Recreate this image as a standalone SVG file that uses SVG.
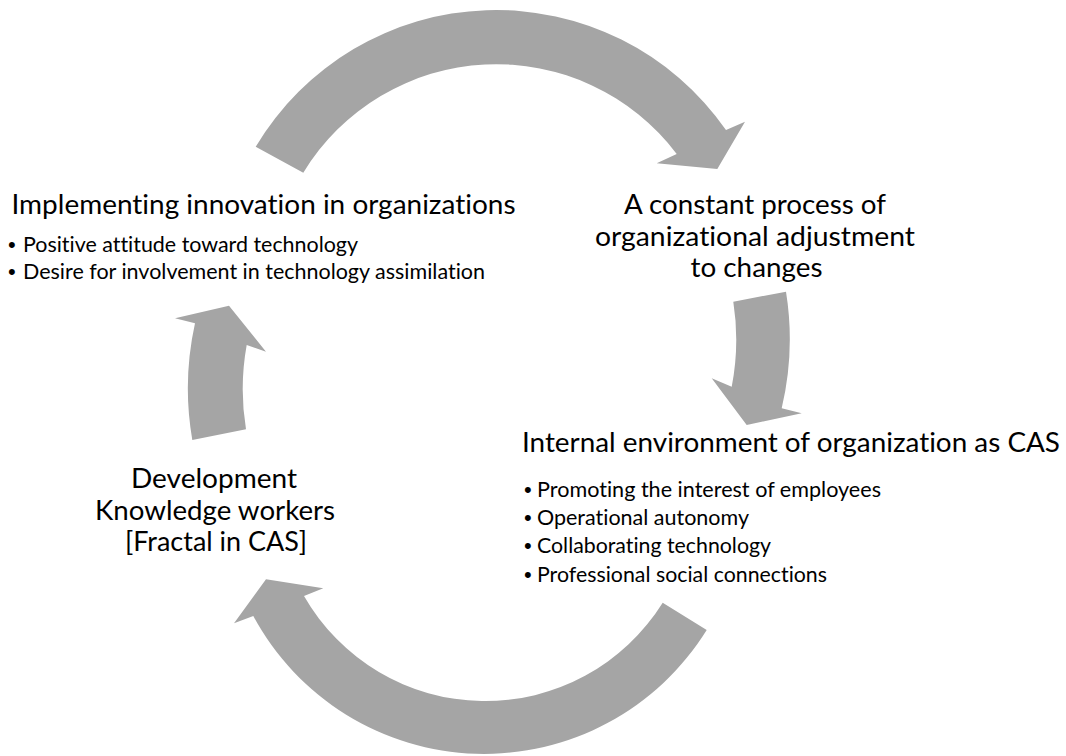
<svg xmlns="http://www.w3.org/2000/svg" width="1066" height="756" viewBox="0 0 1066 756">
  <style>
    text { font-variant-ligatures: none; font-feature-settings: "liga" 0, "clig" 0; }
    .arrow { fill: #A5A5A5; stroke: none; }
    .head { font-family: Lato, "Open Sans", "Liberation Sans", sans-serif; font-size: 27px; fill: #000; }
    .item { font-family: Lato, "Open Sans", "Liberation Sans", sans-serif; font-size: 20.8px; fill: #000; }
    .dot { font-family: "Liberation Sans", Arial, sans-serif; font-size: 22px; fill: #000; }
    .mid { text-anchor: middle; }
  </style>
  <rect width="1066" height="756" fill="#FFFFFF"/>

  <!-- curved block arrows of the cycle -->
  <g id="connectors">
    <path id="arrow-top" class="arrow" d="M 255.7 146.7 A 280 280 0 0 1 726 130 L 745 121.7 L 717.3 169 L 656.7 163.3 L 676.7 154 A 226 226 0 0 0 303.3 172.7 Z"/>
    <path id="arrow-right" class="arrow" d="M 786 291.7 A 300 300 0 0 1 781.7 408.3 L 801.7 413.3 L 746.7 425 L 711.7 378.3 L 731.7 386.7 A 246 246 0 0 0 733.3 301.7 Z"/>
    <path id="arrow-bottom" class="arrow" d="M 706.7 630 A 262 262 0 0 1 253.3 616 L 234 623.3 L 266 579.3 L 323.3 588.3 L 304 596 A 209 209 0 0 0 662.7 602.7 Z"/>
    <path id="arrow-left" class="arrow" d="M 192.3 440 A 302 302 0 0 1 195 323.3 L 175 318.3 L 229 305.7 L 266 351.7 L 246.7 345 A 247 247 0 0 0 246 429.3 Z"/>
  </g>

  <!-- stage: implementing innovation -->
  <g id="node-implementing">
    <text class="head" x="11.5" y="214" textLength="504" lengthAdjust="spacingAndGlyphs">Implementing innovation in organizations</text>
    <text class="dot" x="8" y="251.5">•</text>
    <text class="item" x="23" y="251.5" textLength="335" lengthAdjust="spacingAndGlyphs">Positive attitude toward technology</text>
    <text class="dot" x="8" y="278.5">•</text>
    <text class="item" x="23" y="278.5" textLength="462" lengthAdjust="spacingAndGlyphs">Desire for involvement in technology assimilation</text>
  </g>

  <!-- stage: organizational adjustment -->
  <g id="node-adjustment">
    <text class="head mid" x="755" y="214" textLength="262" lengthAdjust="spacingAndGlyphs">A constant process of</text>
    <text class="head mid" x="755" y="245.5" textLength="320" lengthAdjust="spacingAndGlyphs">organizational adjustment</text>
    <text class="head mid" x="756.5" y="277" textLength="132" lengthAdjust="spacingAndGlyphs">to changes</text>
  </g>

  <!-- stage: internal environment -->
  <g id="node-environment">
    <text class="head" x="522" y="452" textLength="538" lengthAdjust="spacingAndGlyphs">Internal environment of organization as CAS</text>
    <text class="dot" x="524" y="497">•</text>
    <text class="item" x="537" y="497" textLength="344" lengthAdjust="spacingAndGlyphs">Promoting the interest of employees</text>
    <text class="dot" x="524" y="525">•</text>
    <text class="item" x="537" y="525" textLength="212" lengthAdjust="spacingAndGlyphs">Operational autonomy</text>
    <text class="dot" x="524" y="553">•</text>
    <text class="item" x="537" y="553" textLength="234" lengthAdjust="spacingAndGlyphs">Collaborating technology</text>
    <text class="dot" x="524" y="581.5">•</text>
    <text class="item" x="537" y="581.5" textLength="290" lengthAdjust="spacingAndGlyphs">Professional social connections</text>
  </g>

  <!-- stage: knowledge workers -->
  <g id="node-development">
    <text class="head mid" x="214" y="487.5" textLength="166" lengthAdjust="spacingAndGlyphs">Development</text>
    <text class="head mid" x="215" y="519.5" textLength="240" lengthAdjust="spacingAndGlyphs">Knowledge workers</text>
    <text class="head mid" x="216" y="550.5" textLength="182" lengthAdjust="spacingAndGlyphs">[Fractal in CAS]</text>
  </g>
</svg>
